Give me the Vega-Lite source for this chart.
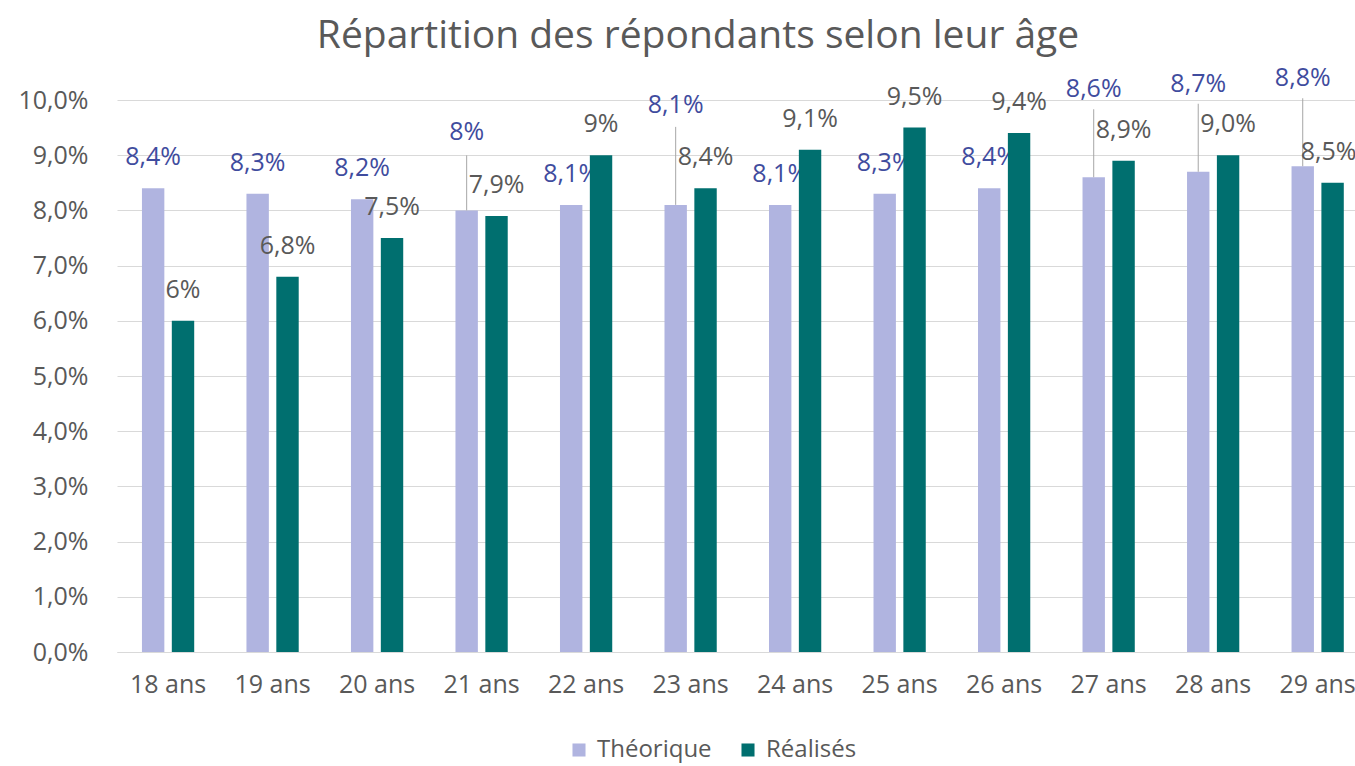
{
  "$schema": "https://vega.github.io/schema/vega-lite/v6.json",
  "width": 1238,
  "height": 552,
  "autosize": {"type": "none"},
  "padding": {"left": 117, "top": 100, "right": 0, "bottom": 114},
  "background": "white",
  "config": {
    "font": "Open Sans",
    "view": {"stroke": null},
    "axis": {"labelFont": "Open Sans"}
  },
  "title": {
    "text": "Répartition des répondants selon leur âge",
    "fontSize": 39,
    "fontWeight": "normal",
    "color": "#595959",
    "anchor": "middle",
    "dx": -38,
    "offset": 10
  },
  "data": {
    "values": [
      {"age": "18 ans", "serie": "Théorique", "value": 0.084, "label": "8,4%"},
      {"age": "19 ans", "serie": "Théorique", "value": 0.083, "label": "8,3%"},
      {"age": "20 ans", "serie": "Théorique", "value": 0.082, "label": "8,2%"},
      {"age": "21 ans", "serie": "Théorique", "value": 0.080, "label": "8%"},
      {"age": "22 ans", "serie": "Théorique", "value": 0.081, "label": "8,1%"},
      {"age": "23 ans", "serie": "Théorique", "value": 0.081, "label": "8,1%"},
      {"age": "24 ans", "serie": "Théorique", "value": 0.081, "label": "8,1%"},
      {"age": "25 ans", "serie": "Théorique", "value": 0.083, "label": "8,3%"},
      {"age": "26 ans", "serie": "Théorique", "value": 0.084, "label": "8,4%"},
      {"age": "27 ans", "serie": "Théorique", "value": 0.086, "label": "8,6%"},
      {"age": "28 ans", "serie": "Théorique", "value": 0.087, "label": "8,7%"},
      {"age": "29 ans", "serie": "Théorique", "value": 0.088, "label": "8,8%"},
      {"age": "18 ans", "serie": "Réalisés", "value": 0.060, "label": "6%"},
      {"age": "19 ans", "serie": "Réalisés", "value": 0.068, "label": "6,8%"},
      {"age": "20 ans", "serie": "Réalisés", "value": 0.075, "label": "7,5%"},
      {"age": "21 ans", "serie": "Réalisés", "value": 0.079, "label": "7,9%"},
      {"age": "22 ans", "serie": "Réalisés", "value": 0.090, "label": "9%"},
      {"age": "23 ans", "serie": "Réalisés", "value": 0.084, "label": "8,4%"},
      {"age": "24 ans", "serie": "Réalisés", "value": 0.091, "label": "9,1%"},
      {"age": "25 ans", "serie": "Réalisés", "value": 0.095, "label": "9,5%"},
      {"age": "26 ans", "serie": "Réalisés", "value": 0.094, "label": "9,4%"},
      {"age": "27 ans", "serie": "Réalisés", "value": 0.089, "label": "8,9%"},
      {"age": "28 ans", "serie": "Réalisés", "value": 0.090, "label": "9,0%"},
      {"age": "29 ans", "serie": "Réalisés", "value": 0.085, "label": "8,5%"}
    ]
  },
  "encoding": {
    "x": {
      "field": "age",
      "type": "nominal",
      "scale": {"paddingInner": 0.5, "paddingOuter": 0.173, "align": 0.69},
      "axis": {
        "title": null,
        "labelAngle": 0,
        "ticks": false,
        "domainColor": "#D9D9D9",
        "labelFontSize": 25,
        "labelColor": "#595959",
        "labelPadding": 20
      }
    },
    "xOffset": {
      "field": "serie",
      "type": "nominal",
      "scale": {"domain": ["Théorique", "Réalisés"], "paddingInner": 0.25}
    },
    "y": {
      "field": "value",
      "type": "quantitative",
      "scale": {"domain": [0, 0.1], "nice": false},
      "axis": {
        "title": null,
        "values": [0, 0.01, 0.02, 0.03, 0.04, 0.05, 0.06, 0.07, 0.08, 0.09, 0.1],
        "labelExpr": "replace(format(datum.value, '.1%'), '.', ',')",
        "domain": false,
        "ticks": false,
        "gridColor": "#D9D9D9",
        "labelFontSize": 25,
        "labelColor": "#595959",
        "labelPadding": 29
      }
    }
  },
  "layer": [
    {
      "transform": [{"filter": "datum.serie == 'Théorique'"}],
      "mark": {"type": "bar"},
      "encoding": {
        "color": {
          "field": "serie",
          "type": "nominal",
          "scale": {"domain": ["Théorique", "Réalisés"], "range": ["#B0B4E0", "#006F6F"]},
          "legend": {
            "orient": "none",
            "legendX": 450,
            "legendY": 638,
            "direction": "horizontal",
            "title": null,
            "symbolType": "square",
            "symbolSize": 170,
            "labelFontSize": 24,
            "labelColor": "#595959",
            "columnPadding": 24,
            "labelOffset": 6
          }
        }
      }
    },
    {
      "transform": [
        {"filter": "datum.serie == 'Théorique' && indexof(['21 ans','23 ans','27 ans','28 ans','29 ans'], datum.age) < 0"}
      ],
      "mark": {"type": "text", "dy": -31, "fontSize": 25, "color": "#3F4C9E", "baseline": "middle"},
      "encoding": {"text": {"field": "label"}}
    },
    {
      "transform": [{"filter": "datum.serie == 'Théorique' && datum.age == '21 ans'"}],
      "mark": {"type": "text", "dy": -78, "fontSize": 25, "color": "#3F4C9E", "baseline": "middle"},
      "encoding": {"text": {"field": "label"}}
    },
    {
      "transform": [{"filter": "datum.serie == 'Théorique' && datum.age == '23 ans'"}],
      "mark": {"type": "text", "dy": -100, "fontSize": 25, "color": "#3F4C9E", "baseline": "middle"},
      "encoding": {"text": {"field": "label"}}
    },
    {
      "transform": [{"filter": "datum.serie == 'Théorique' && indexof(['27 ans','28 ans','29 ans'], datum.age) >= 0"}],
      "mark": {"type": "text", "dy": -88, "fontSize": 25, "color": "#3F4C9E", "baseline": "middle"},
      "encoding": {"text": {"field": "label"}}
    },
    {
      "transform": [{"filter": "datum.serie == 'Théorique' && datum.age == '21 ans'"}],
      "mark": {"type": "rule", "color": "#A6A6A6", "strokeWidth": 1, "y2Offset": -55},
      "encoding": {"y2": {"field": "value"}}
    },
    {
      "transform": [{"filter": "datum.serie == 'Théorique' && datum.age == '23 ans'"}],
      "mark": {"type": "rule", "color": "#A6A6A6", "strokeWidth": 1, "y2Offset": -78},
      "encoding": {"y2": {"field": "value"}}
    },
    {
      "transform": [{"filter": "datum.serie == 'Théorique' && indexof(['27 ans','28 ans','29 ans'], datum.age) >= 0"}],
      "mark": {"type": "rule", "color": "#A6A6A6", "strokeWidth": 1, "y2Offset": -68},
      "encoding": {"y2": {"field": "value"}}
    },
    {
      "transform": [{"filter": "datum.serie == 'Réalisés'"}],
      "mark": {"type": "bar"},
      "encoding": {
        "color": {"field": "serie", "type": "nominal"}
      }
    },
    {
      "transform": [{"filter": "datum.serie == 'Réalisés' && datum.age != '29 ans'"}],
      "mark": {"type": "text", "dy": -31, "fontSize": 25, "color": "#595959", "baseline": "middle"},
      "encoding": {"text": {"field": "label"}}
    },
    {
      "transform": [{"filter": "datum.serie == 'Réalisés' && datum.age == '29 ans'"}],
      "mark": {"type": "text", "dy": -31, "dx": -4, "fontSize": 25, "color": "#595959", "baseline": "middle"},
      "encoding": {"text": {"field": "label"}}
    }
  ]
}
